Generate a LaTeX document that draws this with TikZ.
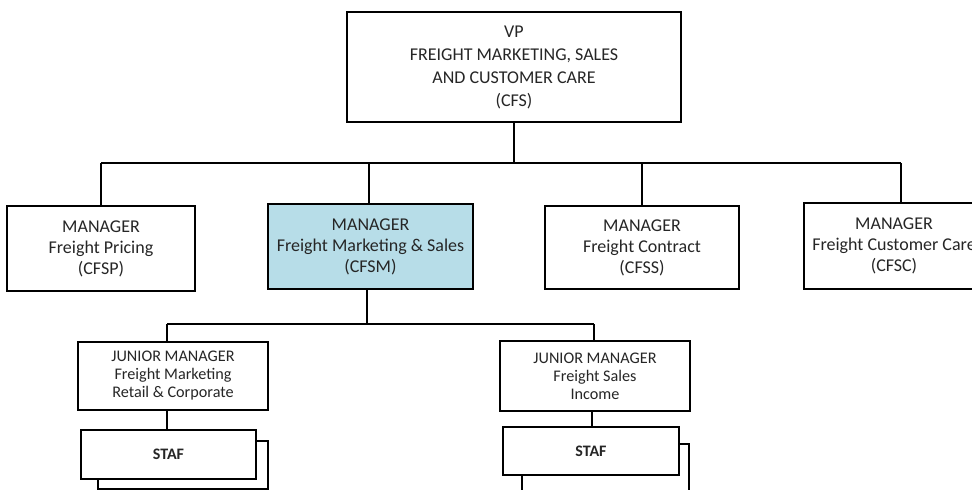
\documentclass[tikz,border=0pt]{standalone}
\usepackage{fontspec}
\setmainfont{Carlito}
\begin{document}
\begin{tikzpicture}[x=1pt,y=-1pt,
  box/.style={draw=black,line width=1.3pt,fill=white,rectangle,inner sep=0pt,align=center,text=black!85},
  toptext/.style={font=\fontsize{18}{23}\selectfont},
  midtext/.style={font=\fontsize{18}{21}\selectfont},
  lowtext/.style={font=\fontsize{16.2}{18}\selectfont},
  staftext/.style={font=\fontsize{16}{17}\selectfont\bfseries},
  link/.style={draw=black,line width=1.3pt},
]
\useasboundingbox (0,0) rectangle (972,490);
\clip (0,0) rectangle (972,490);

% top of the chart
\node[box,toptext,minimum width=334pt,minimum height=110pt] (vp) at (514,67)
  {VP\\FREIGHT MARKETING, SALES\\AND CUSTOMER CARE\\(CFS)};

% managers
\node[box,midtext,minimum width=188pt,minimum height=85pt] (cfsp) at (101,248.5)
  {MANAGER\\Freight Pricing\\(CFSP)};
\node[box,midtext,fill={rgb,255:red,183;green,221;blue,232},minimum width=205pt,minimum height=85pt] (cfsm) at (370.5,246.5)
  {MANAGER\\Freight Marketing \& Sales\\(CFSM)};
\node[box,midtext,minimum width=194pt,minimum height=83pt] (cfss) at (642,247.5)
  {MANAGER\\Freight Contract\\(CFSS)};
\node[box,midtext,minimum width=180pt,minimum height=86pt] (cfsc) at (894,246)
  {MANAGER\\Freight Customer Care\\(CFSC)};

% junior managers
\node[box,lowtext,minimum width=190pt,minimum height=68pt] (jm1) at (173,376)
  {JUNIOR MANAGER\\Freight Marketing\\Retail \& Corporate};
\node[box,lowtext,minimum width=190pt,minimum height=70pt] (jm2) at (595,376)
  {JUNIOR MANAGER\\Freight Sales\\Income};

% staff: a back sheet behind each front sheet
\node[box,minimum width=170pt,minimum height=48pt] (sh1) at (183,465) {};
\node[box,staftext,minimum width=175pt,minimum height=49pt] (st1) at (168.5,454.5) {STAF};
\node[box,minimum width=167pt,minimum height=48pt] (sh2) at (605.5,468) {};
\node[box,staftext,minimum width=176pt,minimum height=48pt] (st2) at (591,451) {STAF};

% bus under the VP
\coordinate (b1) at (101,163);
\coordinate (b2) at (369,163);
\coordinate (b3) at (642,163);
\coordinate (b4) at (901,163);
\path[link] (vp.south) -- (vp.south |- b1);
\path[link] (b1) -- (b4);
\path[link] (b1) -- (b1 |- cfsp.north);
\path[link] (b2) -- (b2 |- cfsm.north);
\path[link] (b3) -- (b3 |- cfss.north);
\path[link] (b4) -- (b4 |- cfsc.north);

% bus under CFSM
\coordinate (m0) at (367,324);
\coordinate (m1) at (167,324);
\coordinate (m2) at (594,324);
\path[link] (m0 |- cfsm.south) -- (m0);
\path[link] (m1) -- (m2);
\path[link] (m1) -- (m1 |- jm1.north);
\path[link] (m2) -- (m2 |- jm2.north);

% junior manager to staff
\coordinate (s1) at (167,0);
\coordinate (s2) at (592,0);
\path[link] (s1 |- jm1.south) -- (s1 |- st1.north);
\path[link] (s2 |- jm2.south) -- (s2 |- st2.north);
\end{tikzpicture}
\end{document}
